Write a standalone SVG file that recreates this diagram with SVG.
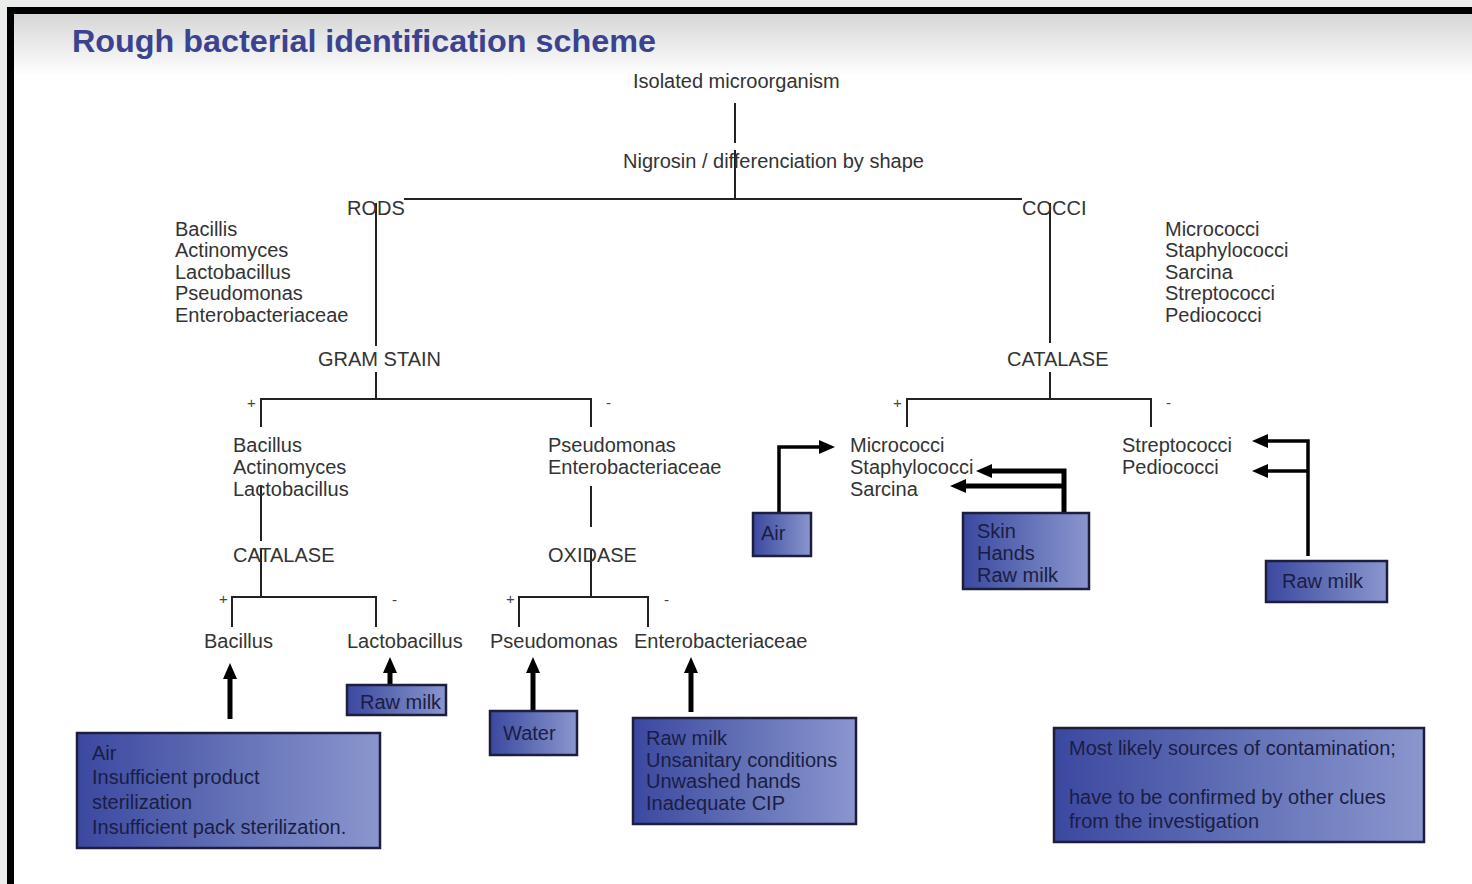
<svg xmlns="http://www.w3.org/2000/svg" width="1472" height="884" viewBox="0 0 1472 884">
<defs>
<linearGradient id="bg" x1="0" y1="0" x2="0" y2="1">
<stop offset="0" stop-color="#d6d6d6"/>
<stop offset="1" stop-color="#ffffff"/>
</linearGradient>
<linearGradient id="boxg" x1="0" y1="0" x2="1" y2="0">
<stop offset="0" stop-color="#3b48a0"/>
<stop offset="0.5" stop-color="#6270b6"/>
<stop offset="1" stop-color="#8b96ce"/>
</linearGradient>
<marker id="ah" markerUnits="userSpaceOnUse" markerWidth="16" markerHeight="14" viewBox="0 0 16 14" refX="4" refY="7" orient="auto">
<path d="M0,0 L16,7 L0,14 z" fill="#000"/>
</marker>
</defs>
<style>
.t{font-family:"Liberation Sans",Arial,sans-serif;font-size:20px;fill:#333}
.bt{font-family:"Liberation Sans",Arial,sans-serif;font-size:20px;fill:#1a1d45}
.sg{font-family:"Liberation Sans",Arial,sans-serif;font-size:15px;fill:#444}
.ln{stroke:#222;stroke-width:2;fill:none}
.ar{stroke:#000;stroke-width:5;fill:none;marker-end:url(#ah)}
.ar3{stroke:#000;stroke-width:3.5;fill:none;marker-end:url(#ah)}
.bx{fill:url(#boxg);stroke:#1c1e3c;stroke-width:2.5}
</style>
<!-- background and frame -->
<rect x="0" y="0" width="1472" height="884" fill="#eceeec"/>
<rect x="14" y="14" width="1458" height="870" fill="#ffffff"/>
<rect x="14" y="14" width="1458" height="62" fill="url(#bg)"/>
<rect x="7" y="7" width="7" height="877" fill="#000"/>
<rect x="7" y="7" width="1465" height="7" fill="#000"/>
<text x="72" y="52" textLength="584" lengthAdjust="spacingAndGlyphs" style="font-family:'Liberation Sans',Arial,sans-serif;font-size:32px;font-weight:bold;fill:#3b4390">Rough bacterial identification scheme</text>

<g id="connectors">
<line class="ln" x1="735" y1="103" x2="735" y2="143"/>
<line class="ln" x1="735" y1="150" x2="735" y2="200"/>
<line class="ln" x1="404" y1="199" x2="1022" y2="199"/>
<line class="ln" x1="376" y1="203" x2="376" y2="346"/>
<line class="ln" x1="376" y1="372" x2="376" y2="400"/>
<line class="ln" x1="1050" y1="203" x2="1050" y2="343"/>
<line class="ln" x1="1050" y1="372" x2="1050" y2="400"/>
<path class="ln" d="M261,427 V399 H591 V427"/>
<path class="ln" d="M907,427 V399 H1151 V427"/>
<line class="ln" x1="261" y1="486" x2="261" y2="541"/>
<line class="ln" x1="261" y1="549" x2="261" y2="598"/>
<path class="ln" d="M232,627 V597 H376 V627"/>
<line class="ln" x1="591" y1="486" x2="591" y2="527"/>
<line class="ln" x1="591" y1="550" x2="591" y2="598"/>
<path class="ln" d="M519,627 V597 H648 V627"/>
<line class="ar" x1="230" y1="719" x2="230" y2="675"/>
<line class="ar" x1="390" y1="686" x2="390" y2="669"/>
<line class="ar" x1="533" y1="712" x2="533" y2="669"/>
<line class="ar" x1="691" y1="712" x2="691" y2="669"/>
<path class="ar3" d="M779,513 V447 H823"/>
<path class="ar" d="M1064,513 V471 H988"/>
<path class="ar" d="M1064,486 H962"/>
<path class="ar3" d="M1308,556 V441 H1264"/>
<path class="ar3" d="M1308,471 H1264"/>
</g>

<g id="n-isolated"><text class="t" x="633" y="88">Isolated microorganism</text></g>
<g id="n-nigrosin"><text class="t" x="623" y="168">Nigrosin / differenciation by shape</text></g>
<g id="n-rods"><text class="t" x="347" y="215">RODS</text></g>
<g id="n-cocci"><text class="t" x="1022" y="215">COCCI</text></g>
<g id="n-rods-list"><text class="t" x="175" y="236">Bacillis</text><text class="t" x="175" y="257">Actinomyces</text><text class="t" x="175" y="279">Lactobacillus</text><text class="t" x="175" y="300">Pseudomonas</text><text class="t" x="175" y="322">Enterobacteriaceae</text></g>
<g id="n-cocci-list"><text class="t" x="1165" y="236">Micrococci</text><text class="t" x="1165" y="257">Staphylococci</text><text class="t" x="1165" y="279">Sarcina</text><text class="t" x="1165" y="300">Streptococci</text><text class="t" x="1165" y="322">Pediococci</text></g>
<g id="n-gram"><text class="t" x="318" y="366">GRAM STAIN</text></g>
<g id="n-catalase-r"><text class="t" x="1007" y="366">CATALASE</text></g>
<g id="n-signs"><text class="sg" x="247" y="408">+</text><text class="sg" x="606" y="408">-</text><text class="sg" x="893" y="408">+</text><text class="sg" x="1166" y="408">-</text><text class="sg" x="219" y="604">+</text><text class="sg" x="392" y="605">-</text><text class="sg" x="506" y="604">+</text><text class="sg" x="664" y="605">-</text></g>
<g id="n-gpos"><text class="t" x="233" y="452">Bacillus</text><text class="t" x="233" y="474">Actinomyces</text><text class="t" x="233" y="496">Lactobacillus</text></g>
<g id="n-gneg"><text class="t" x="548" y="452">Pseudomonas</text><text class="t" x="548" y="474">Enterobacteriaceae</text></g>
<g id="n-micro"><text class="t" x="850" y="452">Micrococci</text><text class="t" x="850" y="474">Staphylococci</text><text class="t" x="850" y="496">Sarcina</text></g>
<g id="n-strep"><text class="t" x="1122" y="452">Streptococci</text><text class="t" x="1122" y="474">Pediococci</text></g>
<g id="n-catalase-l"><text class="t" x="233" y="562">CATALASE</text></g>
<g id="n-oxidase"><text class="t" x="548" y="562">OXIDASE</text></g>
<g id="n-bacillus"><text class="t" x="204" y="648">Bacillus</text></g>
<g id="n-lacto"><text class="t" x="347" y="648">Lactobacillus</text></g>
<g id="n-pseudo"><text class="t" x="490" y="648">Pseudomonas</text></g>
<g id="n-entero"><text class="t" x="634" y="648">Enterobacteriaceae</text></g>

<g id="b-air-steril"><rect class="bx" x="77" y="733" width="303" height="115"/><text class="bt" x="92" y="760">Air</text><text class="bt" x="92" y="784">Insufficient product</text><text class="bt" x="92" y="809">sterilization</text><text class="bt" x="92" y="834">Insufficient pack sterilization.</text></g>
<g id="b-rawmilk-lacto"><rect class="bx" x="347" y="685" width="99" height="30"/><text class="bt" x="360" y="709">Raw milk</text></g>
<g id="b-water"><rect class="bx" x="490" y="711" width="87" height="44"/><text class="bt" x="503" y="740">Water</text></g>
<g id="b-entero-src"><rect class="bx" x="633" y="718" width="223" height="106"/><text class="bt" x="646" y="745">Raw milk</text><text class="bt" x="646" y="767">Unsanitary conditions</text><text class="bt" x="646" y="788">Unwashed hands</text><text class="bt" x="646" y="810">Inadequate CIP</text></g>
<g id="b-air"><rect class="bx" x="753" y="513" width="58" height="43"/><text class="bt" x="761" y="540">Air</text></g>
<g id="b-skin"><rect class="bx" x="963" y="513" width="126" height="76"/><text class="bt" x="977" y="538">Skin</text><text class="bt" x="977" y="560">Hands</text><text class="bt" x="977" y="582">Raw milk</text></g>
<g id="b-rawmilk-strep"><rect class="bx" x="1266" y="561" width="121" height="41"/><text class="bt" x="1282" y="588">Raw milk</text></g>
<g id="b-note"><rect class="bx" x="1054" y="728" width="370" height="114"/><text class="bt" x="1069" y="755">Most likely sources of contamination;</text><text class="bt" x="1069" y="804">have to be confirmed by other clues</text><text class="bt" x="1069" y="828">from the investigation</text></g>
</svg>
